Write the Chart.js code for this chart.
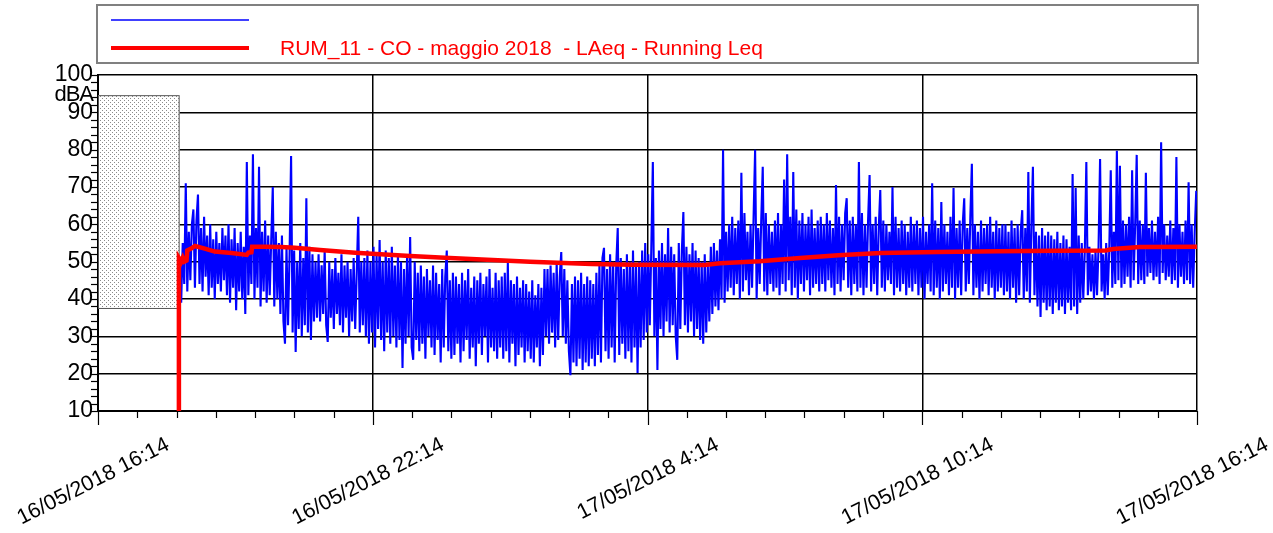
<!DOCTYPE html>
<html>
<head>
<meta charset="utf-8">
<script src="https://cdn.jsdelivr.net/npm/chart.js@4/dist/chart.umd.min.js"></script>
<style>
  html, body { margin: 0; padding: 0; background: #fff; }
  #wrap { width: 1273px; height: 533px; position: relative; }
</style>
</head>
<body>
<div id="wrap"><canvas id="graphCanvas"></canvas></div>
<script>
// time axis is minutes after 16/05/2018 16:14
const xTickLabels = ['16/05/2018 16:14', '16/05/2018 22:14', '17/05/2018 4:14', '17/05/2018 10:14', '17/05/2018 16:14'];
const xMajorMinutes = [0, 360, 720, 1080, 1440];
const minorPerMajor = 7;

const legendText = 'RUM_11 - CO - maggio 2018  - LAeq - Running Leq';

// grey masked period at the start
const maskFrom = 0, maskTo = 107, maskLow = 37.6, maskHigh = 94.6;

// running Leq (red)
const leqMinutes = [106, 106, 109, 111, 113, 116, 117, 122, 127, 140, 153, 175, 195, 197, 201, 202, 219, 240, 258, 291, 337, 409, 461, 566, 647, 700, 795, 815, 867, 920, 970, 1025, 1100, 1180, 1254, 1320, 1330, 1365, 1440];
const leqValues  = [10, 51, 50, 51, 50, 50.3, 53, 53.5, 54.2, 53.5, 52.7, 52.3, 51.8, 52.4, 52.5, 54.0, 54.0, 53.9, 53.7, 53.1, 52.4, 51.5, 51.0, 50.0, 49.4, 49.2, 49.1, 49.6, 50.1, 51.0, 51.7, 52.3, 52.6, 52.8, 52.9, 53.0, 53.4, 53.9, 54.0];

// LAeq short samples (blue), one every 2 minutes from minute 107
const laeqStart = 107, laeqStep = 2;
const laeqValues = [
  48, 39, 55, 44, 71, 42, 58, 45, 60, 64, 43, 61, 68, 44, 59, 42, 62, 46, 57, 41, 60, 43, 56, 40, 58, 44, 55, 42, 59, 45,
  57, 41, 60, 39, 56, 43, 59, 37, 55, 42, 58, 40, 54, 36, 76.7, 41, 57, 44, 78.8, 40, 59, 43, 75.4, 38, 58, 42, 61, 39, 57, 41,
  56, 70, 38, 58, 40, 55, 36, 57, 34, 28, 54, 33, 52, 78.3, 31, 53, 25.8, 50, 32, 55, 30, 51, 33, 67, 31, 54, 29, 52, 34, 50,
  35, 52, 34, 49, 36, 53, 33, 28.5, 50, 35, 48, 32, 51, 36, 47, 33, 52, 31, 49, 35, 50, 30, 48, 34, 51, 32, 47, 62, 31, 50,
  33, 51, 30, 53, 28, 50, 31, 54, 27, 52, 32, 55.8, 29, 50, 26, 53, 31, 51, 28, 54, 30, 49, 27, 52, 29, 50, 21.5, 48, 28, 52,
  30, 56.6, 27, 23.7, 50, 29, 47, 26, 49, 28, 46, 24, 48, 30, 45, 27, 49, 25, 47, 29, 44, 23, 48, 27, 46, 53, 26, 45, 24, 47,
  25, 46, 28, 44, 23, 47, 26, 45, 29, 48, 24, 43, 27, 46, 22, 45, 28, 47, 25, 44, 30, 46, 23, 48, 27, 43, 26, 47, 24, 45,
  27, 46, 24, 47, 26, 49.7, 23, 45, 28, 44, 22, 46, 25, 43, 27, 45, 23, 44, 26, 42, 24, 45, 23, 41, 27, 44, 22, 43, 25, 48,
  30, 48, 28, 49, 31, 47, 27, 50, 29, 46, 52.6, 30, 48, 28, 45, 26, 19.6, 44, 23, 46, 22, 45, 24, 47, 21, 44, 23, 46, 22, 45,
  24, 44, 22, 47, 25, 49, 23, 51, 53.7, 26, 48, 24, 52, 27, 50, 23, 49, 59, 25, 51, 28, 48, 24, 52, 26, 50, 23, 53, 27, 49,
  20.2, 50, 27, 53, 29, 55, 31, 52, 33, 54, 76.7, 30, 51, 21, 53, 32, 55, 30, 52, 34, 59, 31, 54, 33, 52, 30, 23.7, 55, 32, 53,
  63.3, 33, 54, 31, 52, 34, 55, 30, 53, 32, 51, 29, 50, 28, 52, 31, 49, 34, 54, 36, 55, 38, 53, 37, 56, 40, 80, 39, 58, 42,
  60, 43, 62, 41, 59, 44, 61, 40, 73.8, 42, 63, 45, 58, 41, 60, 43, 62, 80, 40, 59, 44, 61, 75.4, 42, 63, 41, 60, 44, 58, 42,
  61, 43, 63, 41, 60, 44, 72, 42, 78.8, 45, 62, 41, 74, 43, 64, 40, 61, 44, 63, 42, 60, 45, 62, 41, 64, 43, 59, 44, 61, 42,
  62, 44, 60, 42, 63, 45, 61, 43, 59, 41, 70.5, 44, 62, 42, 60, 45, 63, 67, 43, 61, 41, 62, 44, 60, 42, 76.7, 43, 63, 41, 60,
  43, 61, 73.2, 42, 60, 44, 62, 41, 59, 69.2, 43, 61, 42, 60, 45, 58, 44, 70, 41, 62, 43, 59, 42, 61, 44, 60, 41, 58, 43, 62,
  42, 60, 44, 61, 41, 59, 43, 62, 40, 58, 44, 60, 42, 71, 41, 61, 43, 59, 40, 66, 42, 60, 44, 58, 41, 62, 43, 69.7, 40, 59,
  43, 61, 41, 60, 67, 42, 59, 44, 62, 76.2, 41, 60, 43, 58, 40, 61, 42, 59, 44, 60, 41, 62, 43, 58, 40, 61, 42, 59, 43, 60,
  41, 60, 42, 58, 40, 61, 43, 59, 39, 60, 41, 58, 63.8, 40, 59, 42, 74, 39, 60, 75.4, 41, 58, 38, 57, 35.2, 59, 39, 57, 37, 58,
  38, 57, 36, 56, 39, 58, 37, 55, 38, 57, 36, 56, 39, 54, 37, 73.5, 38, 69.7, 36, 57, 39, 55, 40, 53, 76.7, 41, 54, 42, 52, 40,
  53, 41, 54, 77.5, 42, 52, 40, 55, 41, 53, 74.5, 43, 58, 44, 79.7, 45, 75.7, 43, 61, 44, 60, 46, 62, 43, 74.5, 45, 60, 78.6, 44, 61,
  45, 60, 44, 73.8, 46, 59, 47, 61, 45, 58, 46, 62, 44, 82, 47, 60, 45, 57, 46, 61, 44, 59, 45, 78, 43, 60, 46, 58, 44, 61,
  45, 71.3, 44, 60, 43, 58, 69
];

const FONT = "'Liberation Sans', Arial, sans-serif";

const laeqData = laeqValues.map((v, i) => ({ x: laeqStart + i * laeqStep, y: v }));
const leqData = leqMinutes.map((m, i) => ({ x: m, y: leqValues[i] }));

// dotted fill for the masked box
const dotTile = document.createElement('canvas');
dotTile.width = 4; dotTile.height = 4;
const dctx = dotTile.getContext('2d');
dctx.fillStyle = '#fff'; dctx.fillRect(0, 0, 4, 4);
dctx.fillStyle = '#8a8a8a'; dctx.fillRect(0, 0, 1, 1); dctx.fillRect(2, 2, 1, 1);

const decor = {
  id: 'decor',
  beforeDatasetsDraw(chart) {
    const { ctx, scales: { x, y } } = chart;
    const x0 = x.getPixelForValue(maskFrom), x1 = x.getPixelForValue(maskTo);
    const y0 = y.getPixelForValue(maskHigh), y1 = y.getPixelForValue(maskLow);
    ctx.save();
    ctx.fillStyle = ctx.createPattern(dotTile, 'repeat');
    ctx.fillRect(x0, y0, x1 - x0, y1 - y0);
    ctx.strokeStyle = '#555';
    ctx.lineWidth = 1;
    ctx.strokeRect(x0 + 0.5, y0 + 0.5, x1 - x0 - 1, y1 - y0);
    ctx.restore();
  },
  afterDraw(chart) {
    const { ctx, chartArea: a, scales: { x, y } } = chart;
    ctx.save();
    ctx.strokeStyle = '#000';
    ctx.lineWidth = 1.2;
    // y minor ticks every 2 dB
    for (let v = 10; v <= 100; v += 2) {
      const py = Math.round(y.getPixelForValue(v)) + 0.5;
      ctx.beginPath(); ctx.moveTo(a.left - 7, py); ctx.lineTo(a.left, py); ctx.stroke();
    }
    // x ticks
    const n = (xMajorMinutes.length - 1) * minorPerMajor;
    const span = xMajorMinutes[xMajorMinutes.length - 1] - xMajorMinutes[0];
    for (let k = 0; k <= n; k++) {
      const px = Math.round(x.getPixelForValue(xMajorMinutes[0] + k * span / n)) + 0.5;
      const len = k % minorPerMajor === 0 ? 14 : 7;
      ctx.beginPath(); ctx.moveTo(px, a.bottom); ctx.lineTo(px, a.bottom + len); ctx.stroke();
    }
    // rotated x labels
    ctx.fillStyle = '#000';
    ctx.font = '21.5px ' + FONT;
    ctx.textAlign = 'right';
    ctx.textBaseline = 'top';
    xMajorMinutes.forEach((m, i) => {
      const px = x.getPixelForValue(m);
      ctx.save();
      ctx.translate(px + 65, a.bottom + 23);
      ctx.rotate(-27 * Math.PI / 180);
      ctx.fillText(xTickLabels[i], 0, 0);
      ctx.restore();
    });
    // unit
    ctx.font = '22px ' + FONT;
    ctx.letterSpacing = '-1px';
    ctx.textBaseline = 'middle';
    ctx.fillText('dBA', a.left - 5, a.top + 20);
    ctx.letterSpacing = '0px';
    // legend box
    ctx.strokeStyle = '#808080';
    ctx.lineWidth = 2;
    ctx.strokeRect(a.left - 1, 5, a.right - a.left + 2, 58);
    ctx.strokeStyle = '#0000ff';
    ctx.lineWidth = 1.5;
    ctx.beginPath(); ctx.moveTo(a.left + 13, 20); ctx.lineTo(a.left + 151, 20); ctx.stroke();
    ctx.strokeStyle = '#ff0000';
    ctx.lineWidth = 4;
    ctx.beginPath(); ctx.moveTo(a.left + 13, 48); ctx.lineTo(a.left + 151, 48); ctx.stroke();
    ctx.fillStyle = '#ff0000';
    ctx.textAlign = 'left';
    ctx.font = '21px ' + FONT;
    ctx.fillText(legendText, a.left + 182, 49);
    ctx.restore();
  }
};

const ctx = document.getElementById('graphCanvas').getContext('2d');
new Chart(ctx, {
  type: 'line',
  data: {
    datasets: [
      { label: legendText, data: leqData, borderColor: '#ff0000', borderWidth: 4.5, pointRadius: 0, tension: 0, fill: false },
      { label: '', data: laeqData, borderColor: '#0000ff', borderWidth: 2.1, pointRadius: 0, tension: 0, fill: false }
    ]
  },
  options: {
    responsive: true,
    maintainAspectRatio: false,
    animation: false,
    layout: { padding: { top: 75, right: 76, bottom: 0, left: 0 } },
    plugins: { legend: { display: false }, tooltip: { enabled: false } },
    scales: {
      x: {
        type: 'linear', min: 0, max: 1440,
        afterBuildTicks: s => { s.ticks = xMajorMinutes.map(v => ({ value: v })); },
        afterFit: s => { s.height = 122; },
        ticks: { display: false },
        grid: { color: '#000', lineWidth: 1.5, drawTicks: false },
        border: { color: '#000', width: 2 }
      },
      y: {
        min: 10, max: 100,
        afterFit: s => { s.width = 98; },
        ticks: { stepSize: 10, color: '#000', padding: 5, font: { family: FONT, size: 23 } },
        grid: { color: '#000', lineWidth: 1.5, drawTicks: false },
        border: { color: '#000', width: 2 }
      }
    }
  },
  plugins: [decor]
});
</script>
</body>
</html>
